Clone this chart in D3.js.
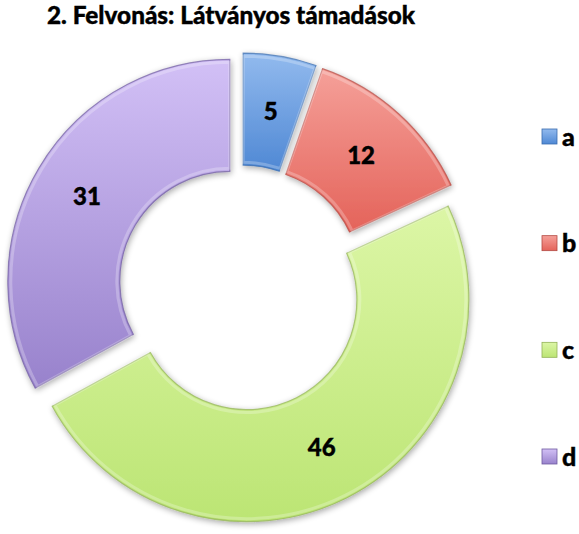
<!DOCTYPE html>
<html><head><meta charset="utf-8">
<script src="https://cdn.jsdelivr.net/npm/d3@7"></script>
<style>body{margin:0;background:#fff}svg{display:block}</style>
</head><body>
<script>
const title = "2. Felvonás: Látványos támadások";
const categories = ["a","b","c","d"];
const values = [5,12,46,31];
const colorsTop = ["#92baee","#f5a099","#dcf6a6","#d2c0f6"];
const colorsBot = ["#4f88d4","#e4635a","#bce574","#9882cc"];
const edgeCols = ["#3a6cae","#b34a43","#93b257","#6f5ba0"];

const W=579,H=534;
const svg=d3.select("body").append("svg").attr("width",W).attr("height",H);
const defs=svg.append("defs");
const f=defs.append("filter").attr("id","sh").attr("x","-20%").attr("y","-20%").attr("width","140%").attr("height","140%");
f.append("feGaussianBlur").attr("in","SourceAlpha").attr("stdDeviation",3).attr("result","b");
f.append("feOffset").attr("in","b").attr("dx",1).attr("dy",2).attr("result","o");
f.append("feComponentTransfer").attr("in","o").attr("result","o2").append("feFuncA").attr("type","linear").attr("slope",0.35);
const m=f.append("feMerge");m.append("feMergeNode").attr("in","o2");m.append("feMergeNode").attr("in","SourceGraphic");
categories.forEach((c,i)=>{
  const g=defs.append("linearGradient").attr("id","g"+i).attr("x1",0).attr("y1",0).attr("x2",0).attr("y2",1);
  g.append("stop").attr("offset","0%").attr("stop-color",colorsTop[i]);
  g.append("stop").attr("offset","100%").attr("stop-color",colorsBot[i]);
});
const font="Lato, 'Open Sans', sans-serif";
svg.append("text").attr("x",231).attr("y",24).attr("text-anchor","middle")
  .attr("font-family",font).attr("font-weight","900").attr("font-size",25)
  .attr("stroke","#000").attr("stroke-width",0.4)
  .attr("textLength",368).attr("lengthAdjust","spacingAndGlyphs").attr("fill","#000").text(title);

const cx=241, cy=288, R=222, r=110, ex=13;
const pie=d3.pie().sort(null).value(d=>d)(values);
const arc=d3.arc().innerRadius(r).outerRadius(R);
const inner=d3.arc().innerRadius(r+3).outerRadius(R-3);
const g=svg.append("g").attr("transform",`translate(${cx},${cy})`);
pie.forEach((p,i)=>{
  const a=(p.startAngle+p.endAngle)/2;
  const dx=ex*Math.sin(a), dy=-ex*Math.cos(a);
  const s=g.append("g").attr("transform",`translate(${dx},${dy})`);
  s.append("path").attr("d",arc(p)).attr("fill",`url(#g${i})`).attr("stroke",edgeCols[i]).attr("stroke-width",1.2).attr("stroke-opacity",0.7).attr("filter","url(#sh)");
  s.append("path").attr("d",inner(p)).attr("fill","none").attr("stroke","#fff").attr("stroke-opacity",0.25).attr("stroke-width",3);
  const c=arc.centroid(p);
  s.append("text").attr("x",c[0]).attr("y",c[1]).attr("dy","0.36em").attr("text-anchor","middle")
   .attr("font-family",font).attr("font-weight","900").attr("font-size",24)
   .attr("stroke","#000").attr("stroke-width",0.4).attr("fill","#000").text(values[i]);
});

const ly=d3.scalePoint().domain(categories).range([136.5,456.5]);
const lg=svg.append("g");
categories.forEach((c,i)=>{
  const y=ly(c);
  lg.append("rect").attr("x",542).attr("y",y-7.5).attr("width",15).attr("height",15).attr("fill",`url(#g${i})`).attr("stroke",edgeCols[i]).attr("stroke-width",0.8);
  lg.append("text").attr("x",562).attr("y",y).attr("dy","0.36em").attr("font-family",font).attr("font-weight","900").attr("font-size",25)
   .attr("stroke","#000").attr("stroke-width",0.4).attr("fill","#000").text(c);
});
</script>
</body></html>
